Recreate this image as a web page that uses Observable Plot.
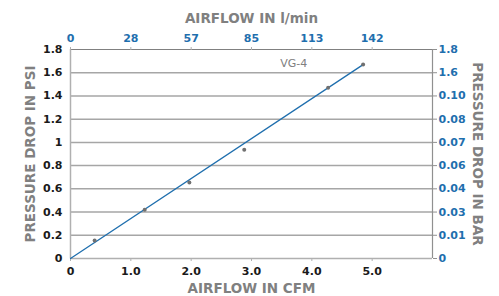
<!DOCTYPE html>
<html>
<head>
<meta charset="utf-8">
<script src="https://cdn.jsdelivr.net/npm/d3@7"></script>
<script src="https://cdn.jsdelivr.net/npm/@observablehq/plot@0.6"></script>
<style>
  html, body { margin: 0; padding: 0; background: #fff; }
</style>
</head>
<body>
<div id="chart"></div>
<script>
const cfmTicks = [0, 1, 2, 3, 4, 5];
const cfmLabels = ["0", "1.0", "2.0", "3.0", "4.0", "5.0"];
const lpmLabels = ["0", "28", "57", "85", "113", "142"];
const psiTicks = [0, 0.2, 0.4, 0.6, 0.8, 1.0, 1.2, 1.4, 1.6, 1.8];
const psiLabels = ["0", "0.2", "0.4", "0.6", "0.8", "1", "1.2", "1.4", "1.6", "1.8"];
const barLabels = ["0", "0.01", "0.03", "0.04", "0.06", "0.07", "0.08", "0.10", "1.6", "1.8"];

const pointCfm = [0.40, 1.23, 1.97, 2.88, 4.27, 4.85];
const pointPsi = [0.155, 0.42, 0.655, 0.937, 1.47, 1.67];
const lineCfm = [0, 4.85];
const linePsi = [0, 1.67];
const seriesName = "VG-4";

const points = pointCfm.map((x, i) => ({x, y: pointPsi[i]}));
const line = lineCfm.map((x, i) => ({x, y: linePsi[i]}));

const BLUE = "#1f6fae";
const GRAY = "#808080";
const FONT = "DejaVu Sans";

const chart = Plot.plot({
  width: 499,
  height: 296,
  marginLeft: 70,
  marginRight: 67,
  marginTop: 49,
  marginBottom: 38,
  style: {fontFamily: FONT, fontSize: "11px", background: "#fff", overflow: "visible"},
  x: {domain: [0, 6]},
  y: {domain: [0, 1.8]},
  marks: [
    Plot.gridY(psiTicks.slice(1, -1), {stroke: "#a6a6a6", strokeOpacity: 1, strokeWidth: 1.5}),
    Plot.ruleY([1.8], {stroke: "#808080", strokeWidth: 1.2}),
    Plot.ruleY([0], {stroke: "#b0b0b0", strokeWidth: 1.5}),
    Plot.ruleX([0], {stroke: "#b0b0b0", strokeWidth: 1.5}),
    Plot.ruleX([6], {stroke: "#909090", strokeWidth: 1.2}),
    Plot.axisX({anchor: "bottom", ticks: cfmTicks, tickFormat: (d, i) => cfmLabels[i], tickSize: 3, tickPadding: 6, stroke: "#b0b0b0", fill: "#1a1a1a", fontWeight: "600", label: null}),
    Plot.axisX({anchor: "top", ticks: cfmTicks, tickFormat: (d, i) => lpmLabels[i], tickSize: 3, tickPadding: 5, stroke: "#b0b0b0", fill: BLUE, fontWeight: "600", label: null}),
    Plot.axisY({anchor: "left", ticks: psiTicks, tickFormat: (d, i) => psiLabels[i], tickSize: 0, tickPadding: 8, fill: "#1a1a1a", fontWeight: "600", label: null}),
    Plot.axisY({anchor: "right", ticks: psiTicks, tickFormat: (d, i) => barLabels[i], tickSize: 4, tickPadding: 2, stroke: "#909090", fill: BLUE, fontWeight: "600", label: null}),
    Plot.line(line, {x: "x", y: "y", stroke: BLUE, strokeWidth: 1.3}),
    Plot.dot(points, {x: "x", y: "y", r: 2, fill: "#707070", stroke: null}),
    Plot.text([seriesName], {x: 3.7, y: 1.68, text: d => d, fill: GRAY, fontSize: 11}),
    Plot.text(["AIRFLOW IN l/min"], {frameAnchor: "top", lineAnchor: "middle", dy: -31, text: d => d, fill: GRAY, fontWeight: "bold", fontSize: 13.5}),
    Plot.text(["AIRFLOW IN CFM"], {frameAnchor: "bottom", lineAnchor: "middle", dy: 30, text: d => d, fill: GRAY, fontWeight: "bold", fontSize: 13.5}),
    Plot.text(["PRESSURE DROP IN PSI"], {frameAnchor: "left", textAnchor: "middle", lineAnchor: "middle", dx: -40, rotate: -90, text: d => d, fill: GRAY, fontWeight: "bold", fontSize: 13.5}),
    Plot.text(["PRESSURE DROP IN BAR"], {frameAnchor: "right", textAnchor: "middle", lineAnchor: "middle", dx: 45, rotate: 90, text: d => d, fill: GRAY, fontWeight: "bold", fontSize: 13.5})
  ]
});
document.getElementById("chart").appendChild(chart);
</script>
</body>
</html>
